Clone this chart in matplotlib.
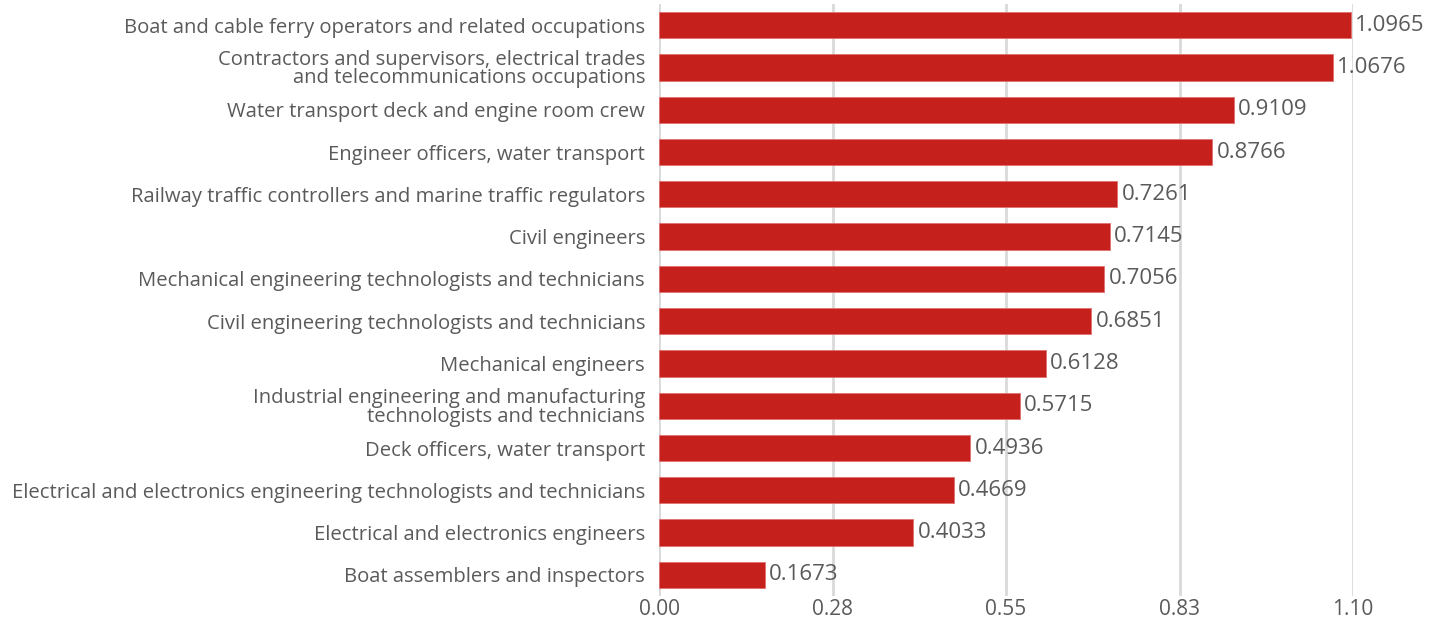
import matplotlib
matplotlib.use('Agg')
import matplotlib.pyplot as plt

# ---- data (top to bottom) ----
occupations = [
    "Boat and cable ferry operators and related occupations",
    "Contractors and supervisors, electrical trades\nand telecommunications occupations",
    "Water transport deck and engine room crew",
    "Engineer officers, water transport",
    "Railway traffic controllers and marine traffic regulators",
    "Civil engineers",
    "Mechanical engineering technologists and technicians",
    "Civil engineering technologists and technicians",
    "Mechanical engineers",
    "Industrial engineering and manufacturing\ntechnologists and technicians",
    "Deck officers, water transport",
    "Electrical and electronics engineering technologists and technicians",
    "Electrical and electronics engineers",
    "Boat assemblers and inspectors",
]
values = [1.0965, 1.0676, 0.9109, 0.8766, 0.7261, 0.7145, 0.7056,
          0.6851, 0.6128, 0.5715, 0.4936, 0.4669, 0.4033, 0.1673]
xticks = [0.0, 0.275, 0.55, 0.825, 1.10]
xtick_labels = ["0.00", "0.28", "0.55", "0.83", "1.10"]

BAR = '#c6201d'
TXT = '#5a5a5a'
plt.rcParams['font.family'] = ['Open Sans', 'DejaVu Sans']

fig = plt.figure(figsize=(14.4, 6.21), dpi=100)
ax = fig.add_axes([659 / 1440, 25 / 621, (1353 - 659) / 1440, 592 / 621])

pos = list(range(len(values)))
ax.barh(pos, values, height=0.62, color=BAR, edgecolor='#e07070', linewidth=0.6, zorder=3)
for p, v in zip(pos, values):
    ax.text(v + 0.007, p, f"{v:.4f}", va='center', ha='left', fontsize=16,
            color=TXT, clip_on=False, zorder=4)

ax.set_xlim(0, 1.10)
ax.set_ylim(len(values) - 0.5, -0.5)
ax.set_yticks(pos)
ax.set_yticklabels(occupations, fontsize=14.6, color=TXT, linespacing=0.9)
ax.set_xticks(xticks)
ax.set_xticklabels(xtick_labels, fontsize=15, color=TXT)
ax.tick_params(axis='x', length=0, pad=2)
ax.tick_params(axis='y', length=0, pad=10)
ax.grid(axis='x', color='#d9d9d9', linewidth=2, zorder=0)
ax.set_axisbelow(True)
for s in ax.spines.values():
    s.set_visible(False)

fig.savefig('out.png', dpi=100)
